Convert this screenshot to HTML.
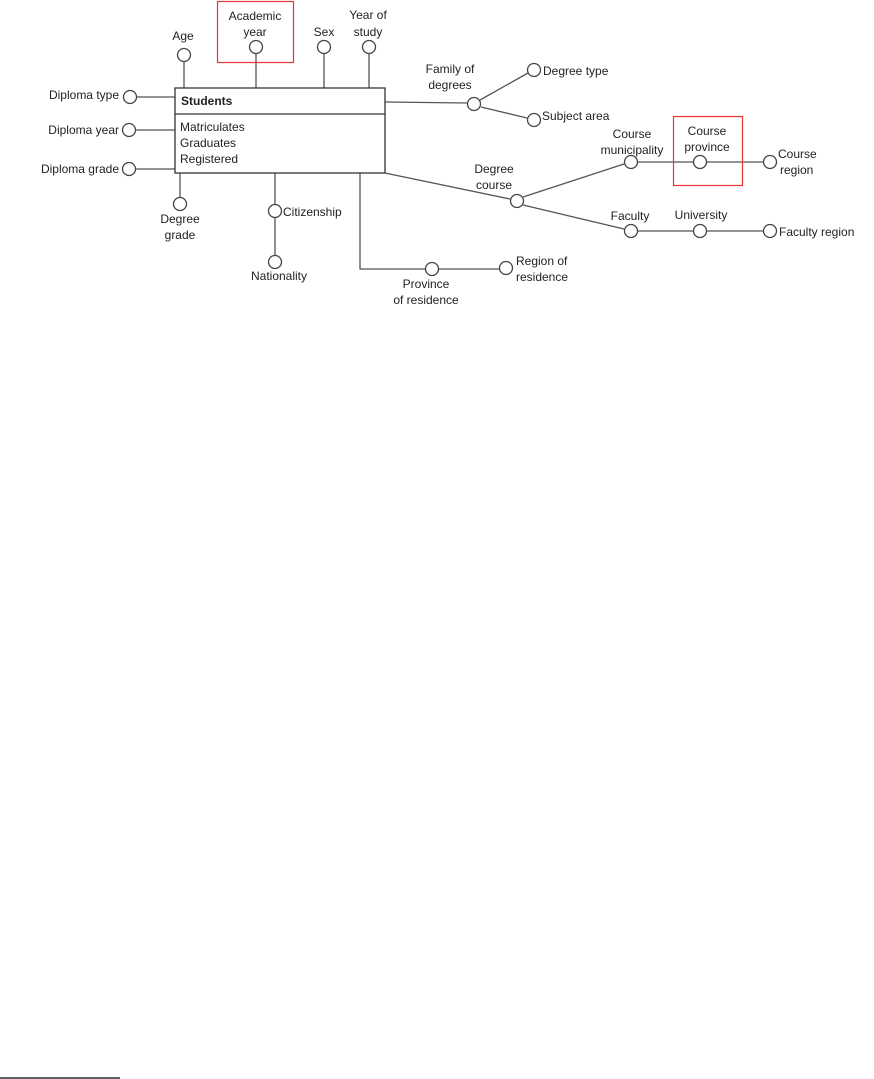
<!DOCTYPE html>
<html><head><style>
html,body{margin:0;padding:0;background:#fff;width:874px;height:1079px;overflow:hidden}
svg text{font-family:"Liberation Sans",Arial,sans-serif;font-size:12px;fill:#222}
</style></head><body>
<svg width="874" height="1079" viewBox="0 0 874 1079" xmlns="http://www.w3.org/2000/svg">
<g stroke="#555" stroke-width="1.3" fill="none">
<line x1="184" y1="62" x2="184" y2="88"/>
<line x1="256" y1="54" x2="256" y2="88"/>
<line x1="324" y1="54" x2="324" y2="88"/>
<line x1="369" y1="54" x2="369" y2="88"/>
<line x1="137" y1="97" x2="175" y2="97"/>
<line x1="136" y1="130" x2="175" y2="130"/>
<line x1="136" y1="169" x2="175" y2="169"/>
<line x1="180" y1="173" x2="180" y2="197"/>
<line x1="275" y1="173" x2="275" y2="255"/>
<polyline points="360,173 360,269 425,269"/>
<line x1="439" y1="269" x2="499" y2="269"/>
<line x1="385" y1="102" x2="467" y2="103"/>
<line x1="480" y1="100" x2="528" y2="73"/>
<line x1="481" y1="107" x2="527" y2="118"/>
<line x1="385" y1="173" x2="510" y2="199"/>
<line x1="523" y1="197" x2="624" y2="164"/>
<line x1="523" y1="205" x2="624" y2="229"/>
<line x1="638" y1="162" x2="763" y2="162"/>
<line x1="638" y1="231" x2="763" y2="231"/>
</g>
<rect x="175" y="88" width="210" height="85" fill="#fff" stroke="#333" stroke-width="1.3"/>
<line x1="175" y1="114" x2="385" y2="114" stroke="#333" stroke-width="1.3"/>
<g stroke="#444" stroke-width="1.3" fill="#fff">
<circle cx="184" cy="55" r="6.5"/>
<circle cx="256" cy="47" r="6.5"/>
<circle cx="324" cy="47" r="6.5"/>
<circle cx="369" cy="47" r="6.5"/>
<circle cx="130" cy="97" r="6.5"/>
<circle cx="129" cy="130" r="6.5"/>
<circle cx="129" cy="169" r="6.5"/>
<circle cx="180" cy="204" r="6.5"/>
<circle cx="275" cy="211" r="6.5"/>
<circle cx="275" cy="262" r="6.5"/>
<circle cx="432" cy="269" r="6.5"/>
<circle cx="506" cy="268" r="6.5"/>
<circle cx="474" cy="104" r="6.5"/>
<circle cx="534" cy="70" r="6.5"/>
<circle cx="534" cy="120" r="6.5"/>
<circle cx="517" cy="201" r="6.5"/>
<circle cx="631" cy="162" r="6.5"/>
<circle cx="700" cy="162" r="6.5"/>
<circle cx="770" cy="162" r="6.5"/>
<circle cx="631" cy="231" r="6.5"/>
<circle cx="700" cy="231" r="6.5"/>
<circle cx="770" cy="231" r="6.5"/>
</g>
<rect x="217.5" y="1.5" width="76" height="61" fill="none" stroke="#e33" stroke-width="1.2"/>
<rect x="673.5" y="116.5" width="69" height="69" fill="none" stroke="#e33" stroke-width="1.2"/>
<text x="181" y="105" font-weight="bold" style="font-weight:bold">Students</text>
<text x="180" y="131">Matriculates</text>
<text x="180" y="147">Graduates</text>
<text x="180" y="163">Registered</text>
<g text-anchor="middle">
<text x="183" y="40">Age</text>
<text x="255" y="20">Academic</text>
<text x="255" y="36">year</text>
<text x="324" y="36">Sex</text>
<text x="368" y="19">Year of</text>
<text x="368" y="36">study</text>
<text x="180" y="223">Degree</text>
<text x="180" y="239">grade</text>
<text x="279" y="280">Nationality</text>
<text x="426" y="288">Province</text>
<text x="426" y="304">of residence</text>
<text x="450" y="73">Family of</text>
<text x="450" y="89">degrees</text>
<text x="494" y="173">Degree</text>
<text x="494" y="189">course</text>
<text x="632" y="138">Course</text>
<text x="632" y="154">municipality</text>
<text x="707" y="135">Course</text>
<text x="707" y="151">province</text>
<text x="630" y="220">Faculty</text>
<text x="701" y="219">University</text>
</g>
<g text-anchor="end">
<text x="119" y="99">Diploma type</text>
<text x="119" y="134">Diploma year</text>
<text x="119" y="173">Diploma grade</text>
</g>
<text x="283" y="216">Citizenship</text>
<text x="516" y="265">Region of</text>
<text x="516" y="281">residence</text>
<text x="543" y="75">Degree type</text>
<text x="542" y="120">Subject area</text>
<text x="778" y="158">Course</text>
<text x="780" y="174">region</text>
<text x="779" y="236">Faculty region</text>
<line x1="0" y1="1078" x2="120" y2="1078" stroke="#000" stroke-width="1.2"/>
</svg>
</body></html>
